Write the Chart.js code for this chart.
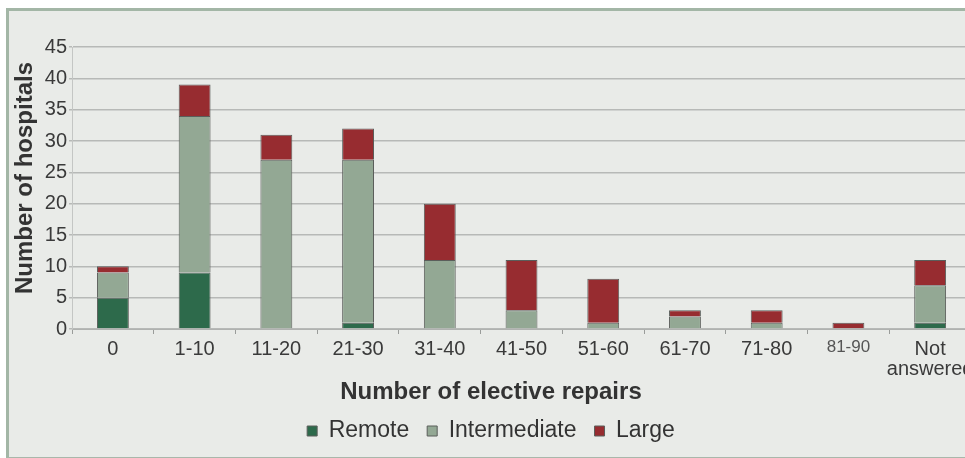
<!DOCTYPE html>
<html>
<head>
<meta charset="utf-8">
<script src="https://cdn.jsdelivr.net/npm/chart.js@4/dist/chart.umd.min.js"></script>
<style>
  html, body { margin: 0; padding: 0; background: #fff; overflow: hidden; }
  #frame {
    position: absolute; left: 6px; top: 8px; width: 980px; height: 446px;
    background: #e9ebe8;
    border-left: 3px solid #a3b6a6; border-top: 3px solid #a3b6a6; border-bottom: 2px solid #a9b7aa;
  }
  #wrap { position: absolute; left: 0; top: 0; width: 980px; height: 458px; }
</style>
</head>
<body>
<div id="frame"></div>
<div id="wrap"><canvas id="chart"></canvas></div>
<script>
// categories along the x axis
const categories = ['0', '1-10', '11-20', '21-30', '31-40', '41-50', '51-60', '61-70', '71-80', '81-90', ['Not', 'answered']];

// hospitals per size group
const remote       = [5, 9, 0, 1, 0, 0, 0, 0, 0, 0, 1];
const intermediate = [4, 25, 27, 26, 11, 3, 1, 2, 1, 0, 6];
const large        = [1, 5, 4, 5, 9, 8, 7, 1, 2, 1, 4];

const yTicks = [0, 5, 10, 15, 20, 25, 30, 35, 40, 45];

const COLORS = { remote: '#2d6a4b', intermediate: '#93a894', large: '#972c30' };
const FONT = "'Liberation Sans', Arial, sans-serif";

function bar(label, data, color) {
  return {
    label: label,
    data: data,
    backgroundColor: color,
    borderColor: '#5b5e5b',
    borderWidth: 1,
    barPercentage: 0.39,
    categoryPercentage: 1,
  };
}

new Chart(document.getElementById('chart'), {
  type: 'bar',
  data: {
    labels: categories,
    datasets: [
      bar('Remote', remote, COLORS.remote),
      bar('Intermediate', intermediate, COLORS.intermediate),
      bar('Large', large, COLORS.large),
    ],
  },
  options: {
    responsive: true,
    maintainAspectRatio: false,
    animation: false,
    layout: { padding: { top: 47, left: 11, right: 9, bottom: 5.5 } },
    plugins: {
      tooltip: { enabled: false },
      // x axis title, centred on the whole figure like the legend
      title: {
        display: true,
        text: 'Number of elective repairs',
        position: 'bottom',
        weight: 500,
        color: '#333',
        font: { size: 24, weight: 'bold', family: FONT, lineHeight: 1 },
        padding: { top: -4, bottom: -2.5 },
      },
      legend: {
        position: 'bottom',
        labels: {
          color: '#333',
          font: { size: 23, family: FONT },
          boxWidth: 10,
          boxHeight: 10,
          padding: 18,
        },
      },
    },
    scales: {
      x: {
        stacked: true,
        grid: { display: true, offset: true, drawOnChartArea: false, color: '#9a9c9a', tickLength: 5 },
        border: { color: '#b0b2b0', width: 1 },
        ticks: {
          color: (ctx) => ctx.index === 9 ? '#555' : '#3a3a3a',
          maxRotation: 0,
          autoSkip: false,
          padding: 5,
          font: (ctx) => ({ size: ctx.index === 9 ? 17 : 20, family: FONT, lineHeight: 1 }),
        },
      },
      y: {
        stacked: true,
        min: 0,
        max: 45,
        afterBuildTicks: (axis) => { axis.ticks = yTicks.map(v => ({ value: v })); },
        grid: { color: '#b7b9b7', lineWidth: 1.5, tickLength: 3 },
        border: { color: '#c4c6c4', width: 1 },
        ticks: { color: '#3a3a3a', padding: 2, font: { size: 20, family: FONT, lineHeight: 1 } },
        title: {
          display: true,
          text: '   Number of hospitals',
          color: '#333',
          font: { size: 24, weight: 'bold', family: FONT },
          padding: { top: 0, bottom: 3 },
        },
      },
    },
  },
});
</script>
</body>
</html>
